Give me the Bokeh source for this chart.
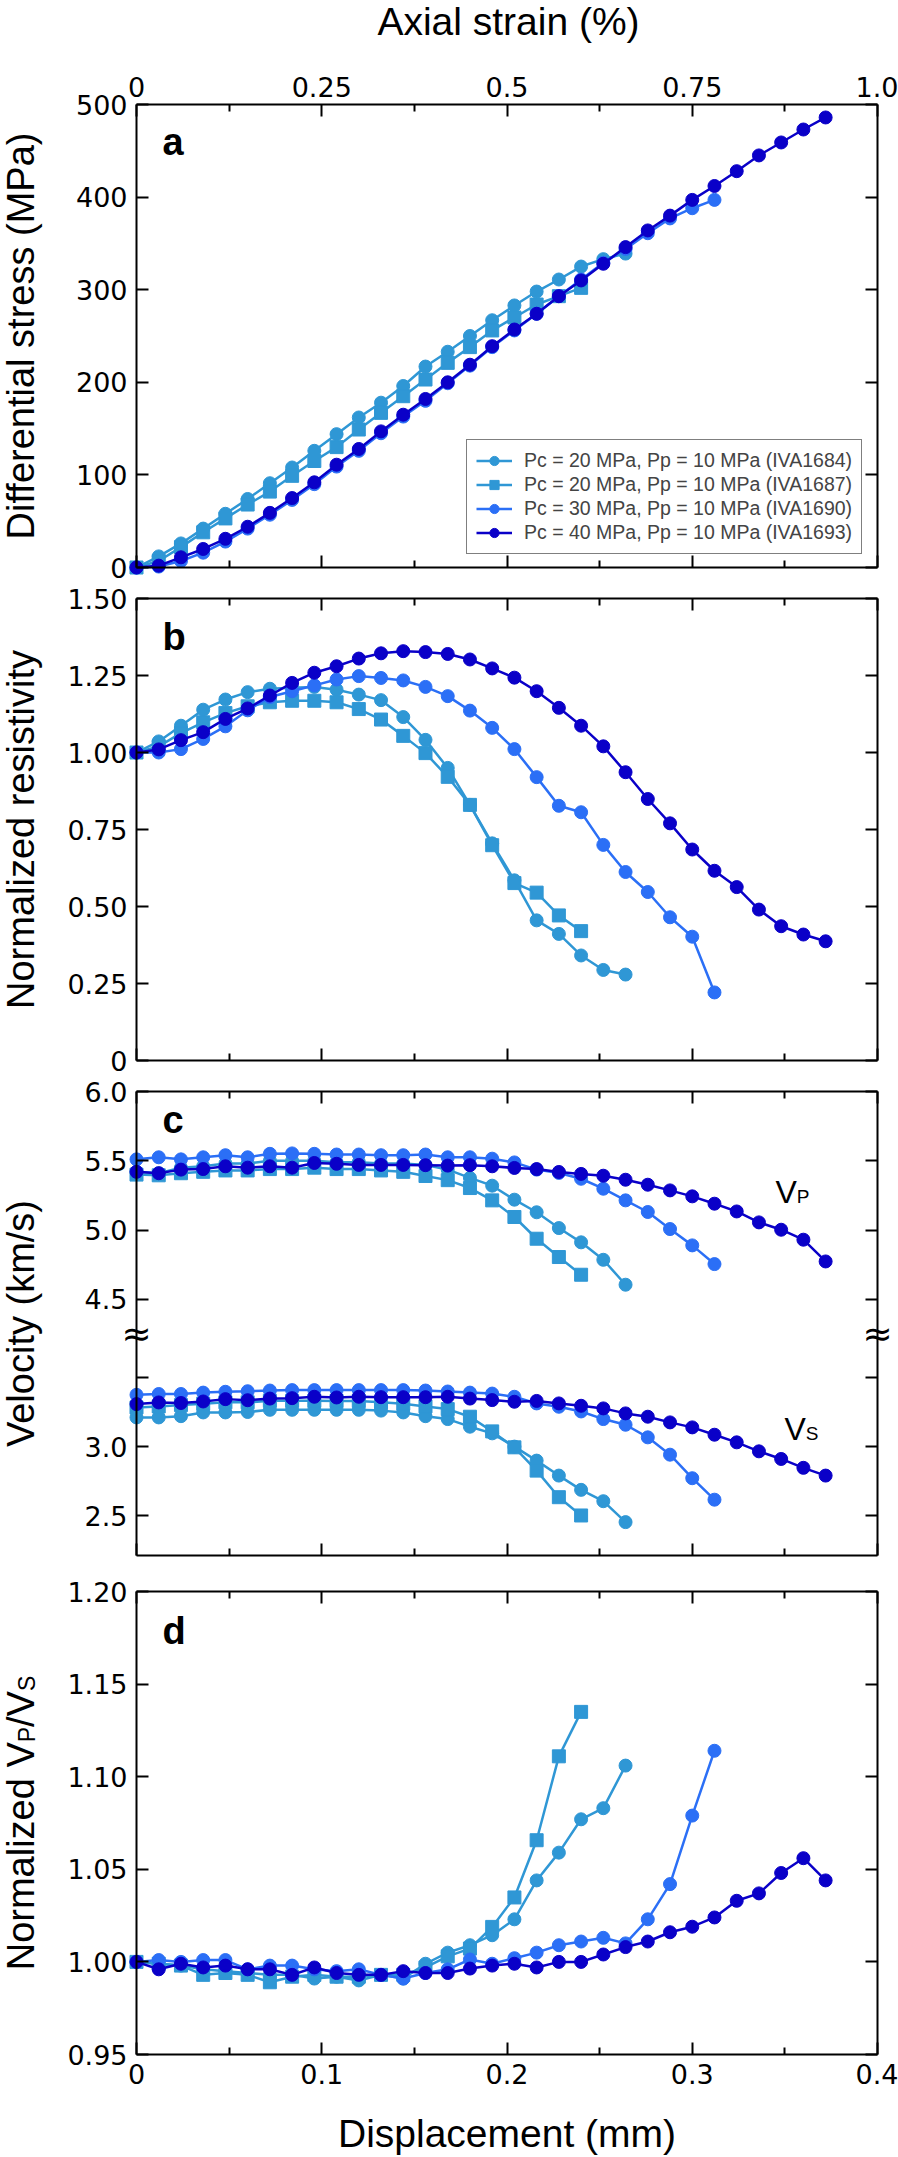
import math
import numpy as np
from bokeh.plotting import figure
from bokeh.models import (Range1d, LinearAxis, FixedTicker, CustomJSTickFormatter,
                          Label, Legend, LegendItem)
from bokeh.embed import file_html
from bokeh.resources import INLINE

# ---------------- data ----------------
DISP = [0.000, 0.012, 0.024, 0.036, 0.048, 0.060, 0.072, 0.084, 0.096, 0.108,
        0.120, 0.132, 0.144, 0.156, 0.168, 0.180, 0.192, 0.204, 0.216, 0.228,
        0.240, 0.252, 0.264, 0.276, 0.288, 0.300, 0.312, 0.324, 0.336, 0.348,
        0.360, 0.372]

NAMES = ["Pc = 20 MPa, Pp = 10 MPa (IVA1684)",
         "Pc = 20 MPa, Pp = 10 MPa (IVA1687)",
         "Pc = 30 MPa, Pp = 10 MPa (IVA1690)",
         "Pc = 40 MPa, Pp = 10 MPa (IVA1693)"]
MARKERS = ["circle", "square", "circle", "circle"]
COLORS = ["#2f97d5", "#2f97d5", "#2b6ff6", "#0a00c8"]

# (a) differential stress, MPa
STRESS_1684 = [0, 12, 26, 42, 58, 74, 91, 108, 126, 144, 162, 178, 196, 217, 233,
               250, 267, 283, 298, 311, 325, 333, 339]
STRESS_1687 = [0, 7, 22, 38, 53, 68, 82, 99, 115, 130, 149, 167, 185, 203, 221,
               238, 256, 270, 284, 293, 302]
STRESS_1690 = [0, 1, 7, 16, 28, 42, 57, 73, 90, 109, 126, 145, 163, 180, 199,
               218, 238, 256, 274, 293, 311, 329, 344, 361, 377, 388, 397]
STRESS_1693 = [0, 2, 11, 20, 31, 44, 59, 75, 92, 111, 128, 147, 165, 182, 200,
               219, 239, 257, 274, 293, 310, 328, 346, 364, 380, 397, 412, 428,
               445, 459, 473, 486]

# (b) normalized resistivity
RES_1684 = [1.00, 1.036, 1.087, 1.139, 1.172, 1.196, 1.207, 1.210, 1.213, 1.204,
            1.188, 1.170, 1.115, 1.041, 0.950, 0.830, 0.705, 0.585, 0.455, 0.411,
            0.341, 0.294, 0.279]
RES_1687 = [1.00, 1.020, 1.063, 1.098, 1.128, 1.150, 1.163, 1.168, 1.168, 1.163,
            1.141, 1.107, 1.054, 0.998, 0.921, 0.830, 0.699, 0.576, 0.545, 0.471,
            0.420]
RES_1690 = [1.00, 1.00, 1.011, 1.044, 1.085, 1.137, 1.180, 1.199, 1.218, 1.237,
            1.248, 1.242, 1.234, 1.213, 1.183, 1.136, 1.080, 1.011, 0.920, 0.827,
            0.806, 0.700, 0.612, 0.547, 0.465, 0.402, 0.221]
RES_1693 = [1.00, 1.010, 1.040, 1.066, 1.109, 1.143, 1.185, 1.226, 1.259, 1.280,
            1.305, 1.322, 1.329, 1.326, 1.320, 1.302, 1.273, 1.243, 1.199, 1.145,
            1.087, 1.020, 0.936, 0.849, 0.770, 0.685, 0.616, 0.563, 0.490, 0.436,
            0.409, 0.387]

# (c) P-wave velocity, km/s
VP_1684 = [5.42, 5.41, 5.45, 5.46, 5.48, 5.48, 5.50, 5.50, 5.50, 5.49, 5.49, 5.48,
           5.48, 5.47, 5.436, 5.376, 5.320, 5.219, 5.128, 5.014, 4.911, 4.785, 4.605]
VP_1687 = [5.40, 5.395, 5.41, 5.42, 5.43, 5.43, 5.44, 5.44, 5.45, 5.44, 5.44, 5.43,
           5.42, 5.39, 5.36, 5.303, 5.214, 5.094, 4.937, 4.805, 4.677]
VP_1690 = [5.51, 5.525, 5.51, 5.525, 5.54, 5.525, 5.55, 5.553, 5.55, 5.545, 5.545,
           5.54, 5.54, 5.545, 5.525, 5.525, 5.515, 5.488, 5.436, 5.412, 5.370,
           5.298, 5.214, 5.130, 5.007, 4.889, 4.754]
VP_1693 = [5.42, 5.41, 5.436, 5.44, 5.46, 5.45, 5.46, 5.45, 5.484, 5.478, 5.47,
           5.47, 5.47, 5.468, 5.465, 5.468, 5.46, 5.448, 5.44, 5.419, 5.405, 5.392,
           5.363, 5.327, 5.286, 5.243, 5.190, 5.134, 5.055, 5.002, 4.930, 4.773]

# (c) S-wave velocity, km/s
VS_1684 = [3.211, 3.211, 3.22, 3.247, 3.247, 3.25, 3.266, 3.266, 3.266, 3.266,
           3.266, 3.26, 3.247, 3.22, 3.199, 3.144, 3.096, 3.000, 2.899, 2.791,
           2.688, 2.606, 2.455]
VS_1687 = [3.283, 3.29, 3.30, 3.31, 3.32, 3.32, 3.331, 3.331, 3.331, 3.33, 3.33,
           3.32, 3.31, 3.29, 3.271, 3.216, 3.110, 2.995, 2.827, 2.635, 2.503]
VS_1690 = [3.374, 3.38, 3.38, 3.39, 3.396, 3.40, 3.405, 3.408, 3.408, 3.408, 3.408,
           3.408, 3.408, 3.405, 3.398, 3.39, 3.383, 3.36, 3.312, 3.288, 3.254,
           3.199, 3.158, 3.067, 2.942, 2.772, 2.617]
VS_1693 = [3.307, 3.319, 3.315, 3.326, 3.343, 3.335, 3.347, 3.35, 3.36, 3.355,
           3.36, 3.357, 3.357, 3.357, 3.36, 3.347, 3.336, 3.324, 3.33, 3.312,
           3.295, 3.276, 3.24, 3.216, 3.175, 3.139, 3.086, 3.031, 2.966, 2.911,
           2.847, 2.791]

# (d) normalized Vp/Vs
VPVS_1684 = [1.0, 0.999, 0.998, 0.996, 0.995, 0.994, 0.993, 0.993, 0.991, 0.992,
             0.990, 0.993, 0.991, 0.999, 1.005, 1.009, 1.0144, 1.023, 1.044, 1.059,
             1.077, 1.083, 1.106]
VPVS_1687 = [1.0, 0.999, 0.998, 0.993, 0.994, 0.993, 0.989, 0.992, 0.993, 0.992,
             0.992, 0.993, 0.993, 0.997, 1.003, 1.0072, 1.0189, 1.0348, 1.0657,
             1.111, 1.135]
VPVS_1690 = [1.0, 1.001, 1.0, 1.001, 1.001, 0.996, 0.998, 0.998, 0.996, 0.995,
             0.996, 0.993, 0.991, 0.994, 0.996, 1.0013, 0.999, 1.002, 1.005, 1.009,
             1.011, 1.013, 1.010, 1.023, 1.042, 1.079, 1.114]
VPVS_1693 = [1.0, 0.996, 0.999, 0.997, 0.998, 0.996, 0.996, 0.993, 0.997, 0.994,
             0.993, 0.993, 0.995, 0.994, 0.994, 0.9964, 0.998, 0.999, 0.997, 1.0,
             1.0, 1.004, 1.008, 1.011, 1.016, 1.019, 1.024, 1.033, 1.037, 1.048,
             1.056, 1.044]

# ticks
X_MAJOR = [0, 0.1, 0.2, 0.3, 0.4]
X_MINOR = [0.05, 0.15, 0.25, 0.35]
STRAIN_MAJOR = [0, 0.25, 0.5, 0.75, 1.0]
STRAIN_MINOR = [0.125, 0.375, 0.625, 0.875]
Y_TICKS_A = [0, 100, 200, 300, 400, 500]
Y_TICKS_B = [0, 0.25, 0.5, 0.75, 1.0, 1.25, 1.5]
VP_TICKS = [4.5, 5.0, 5.5, 6.0]
VS_TICKS = [2.5, 3.0, 3.5]
Y_TICKS_D = [0.95, 1.0, 1.05, 1.10, 1.15, 1.20]

# ---------------- layout constants (page pixels) ----------------
W, H = 898, 2157
VS_OFFSET = 0.436          # shift of the Vs block on the broken velocity axis
FRAME_LEFT, FRAME_W = 136, 741
XS = FRAME_W / 0.4         # px per mm
TITLE_FONT = "Liberation Sans"
TICK_FONT = "DejaVu Sans"
MID = 0.3465               # (ascent - descent) / 2, in em: baseline -> box middle


def px2x(px):
    return (px - FRAME_LEFT) / XS


def prange(top, h, y0, y1):
    s = (y1 - y0) / h
    return Range1d(start=y0 - (H - (top + h)) * s, end=y1 + top * s)


PANELS = {  # name: (page top, height, y0, y1)
    "a": (104, 463, 0, 500),
    "b": (598, 462, 0, 1.5),
    "c": (1091, 464, 2.65, 6.0),
    "d": (1591, 463, 0.95, 1.20),
}

p = figure(width=W, height=H, frame_width=W, frame_height=H,
           x_range=Range1d(px2x(0), px2x(W)), y_range=Range1d(H, 0),
           output_backend="svg", toolbar_location=None,
           x_axis_location=None, y_axis_location=None,
           min_border_left=0, min_border_right=0, min_border_top=0,
           min_border_bottom=0, background_fill_color="white",
           border_fill_color="white", outline_line_color=None)
p.grid.visible = False
p.extra_x_ranges = {"page": Range1d(0, W),
                    "strain": Range1d(px2x(0) * 2.5, px2x(W) * 2.5)}
p.extra_y_ranges = {k: prange(*v) for k, v in PANELS.items()}


def style_axis(ax, show_labels, standoff=8):
    ax.axis_line_width = 2
    ax.axis_line_color = "black"
    ax.major_tick_line_width = 2
    ax.minor_tick_line_width = 2
    ax.major_tick_line_color = "black"
    ax.minor_tick_line_color = "black"
    ax.major_tick_in = 12
    ax.major_tick_out = 0
    ax.minor_tick_in = 7
    ax.minor_tick_out = 0
    if show_labels:
        ax.major_label_text_font = TICK_FONT
        ax.major_label_text_font_size = "27px"
        ax.major_label_text_color = "black"
        ax.major_label_standoff = standoff
    else:
        ax.formatter = CustomJSTickFormatter(code="return '';")
        ax.major_label_text_font_size = "1px"
        ax.major_label_standoff = 0


def add_panel_axes(name, yticks, yformatter, top_strain=False, bottom_labels=False):
    _, _, y0, y1 = PANELS[name]
    ax = LinearAxis(y_range_name=name, fixed_location=0, bounds=(y0, y1),
                    ticker=FixedTicker(ticks=yticks, minor_ticks=[]),
                    formatter=yformatter)
    style_axis(ax, True, standoff=9)
    p.add_layout(ax, "left")
    ax = LinearAxis(y_range_name=name, fixed_location=0.4, bounds=(y0, y1),
                    ticker=FixedTicker(ticks=yticks, minor_ticks=[]))
    style_axis(ax, False)
    p.add_layout(ax, "right")
    if top_strain:
        ax = LinearAxis(x_range_name="strain", y_range_name=name, fixed_location=y1,
                        bounds=(0, 1.0),
                        ticker=FixedTicker(ticks=STRAIN_MAJOR, minor_ticks=STRAIN_MINOR),
                        formatter=CustomJSTickFormatter(
                            code="return tick == 0 ? '0' : (tick == 1 ? '1.0' : String(tick));"))
        style_axis(ax, True, standoff=8)
    else:
        ax = LinearAxis(y_range_name=name, fixed_location=y1, bounds=(0, 0.4),
                        ticker=FixedTicker(ticks=X_MAJOR, minor_ticks=X_MINOR))
        style_axis(ax, False)
    p.add_layout(ax, "above")
    if bottom_labels:
        ax = LinearAxis(y_range_name=name, fixed_location=y0, bounds=(0, 0.4),
                        ticker=FixedTicker(ticks=X_MAJOR, minor_ticks=X_MINOR),
                        formatter=CustomJSTickFormatter(
                            code="return tick == 0 ? '0' : tick.toFixed(1);"))
        style_axis(ax, True, standoff=9)
    else:
        ax = LinearAxis(y_range_name=name, fixed_location=y0, bounds=(0, 0.4),
                        ticker=FixedTicker(ticks=X_MAJOR, minor_ticks=X_MINOR))
        style_axis(ax, False)
    p.add_layout(ax, "below")


def text(x, y, s, size, bold=False, align="left", font=TITLE_FONT):
    """Horizontal text; x, y = page pixels of the left/center start and the baseline."""
    p.add_layout(Label(x=x, y=y - MID * size, x_range_name="page", text=s,
                       text_font=font, text_font_size=f"{size}px",
                       text_font_style="bold" if bold else "normal",
                       text_align=align, text_baseline="middle",
                       text_color="black"))


def vtext(x, y, s, size, align="center", font=TITLE_FONT):
    """Text rotated 90 deg (reads upward); x = page px of the baseline."""
    p.add_layout(Label(x=x - MID * size, y=y, x_range_name="page", text=s,
                       text_font=font, text_font_size=f"{size}px",
                       angle=math.pi / 2, text_align=align, text_baseline="middle",
                       text_color="black"))


def plot_series(name, ys, offset=0.0):
    items = []
    for label, marker, color, y in zip(NAMES, MARKERS, COLORS, ys):
        x = DISP[:len(y)]
        yy = list(np.array(y, dtype=float) + offset)
        r1 = p.line(x, yy, line_color=color, line_width=2.5, y_range_name=name)
        r2 = p.scatter(x, yy, marker=marker, size=13, fill_color=color,
                       line_color=color, y_range_name=name)
        items.append(LegendItem(label=label, renderers=[r1, r2]))
    return items


def center_y(name):
    top, h, _, _ = PANELS[name]
    return top + h / 2


YLABEL_X = 34

# ---------------- panel a ----------------
add_panel_axes("a", Y_TICKS_A, CustomJSTickFormatter(code="return tick.toFixed(0);"),
               top_strain=True)
items = plot_series("a", [STRESS_1684, STRESS_1687, STRESS_1690, STRESS_1693])
legend = Legend(items=items, location=(466, H - 554),
                border_line_color="black", border_line_width=1.5,
                background_fill_color="white", background_fill_alpha=1.0,
                label_text_font=TITLE_FONT, label_text_font_size="19.5px",
                glyph_width=36, glyph_height=23, label_height=23,
                spacing=1, padding=9, margin=0, label_standoff=12)
p.add_layout(legend)
text(162, 155, "a", 38, bold=True)
vtext(YLABEL_X, center_y("a"), "Differential stress (MPa)", 38)
text(508, 35, "Axial strain (%)", 39, align="center")

# ---------------- panel b ----------------
add_panel_axes("b", Y_TICKS_B, CustomJSTickFormatter(
    code="return tick == 0 ? '0' : tick.toFixed(2);"))
plot_series("b", [RES_1684, RES_1687, RES_1690, RES_1693])
text(162, 650, "b", 38, bold=True)
vtext(YLABEL_X, center_y("b"), "Normalized resistivity", 38)

# ---------------- panel c ----------------
c_ticks = [v + VS_OFFSET for v in VS_TICKS] + VP_TICKS
add_panel_axes("c", c_ticks, CustomJSTickFormatter(args=dict(off=VS_OFFSET), code="""
    if (tick > 4.2) { return tick.toFixed(1); }
    const v = tick - off;
    if (Math.abs(v - 3.5) < 0.01) { return ''; }
    return v.toFixed(1);
"""))
plot_series("c", [VP_1684, VP_1687, VP_1690, VP_1693])
plot_series("c", [VS_1684, VS_1687, VS_1690, VS_1693], offset=VS_OFFSET)
text(162, 1133, "c", 38, bold=True)
vtext(YLABEL_X, center_y("c"), "Velocity (km/s)", 38)
text(775, 1203, "V", 32)
text(775 + 0.667 * 32, 1203, "P", 19)
text(784, 1440, "V", 32)
text(784 + 0.667 * 32, 1440, "S", 19)
for bx in (FRAME_LEFT, FRAME_LEFT + FRAME_W):
    p.add_layout(Label(x=bx, y=1333, x_range_name="page", text="\u2248",
                       text_font="DejaVu Sans", text_font_size="36px",
                       text_align="center", text_baseline="middle",
                       text_color="black"))

# ---------------- panel d ----------------
add_panel_axes("d", Y_TICKS_D, CustomJSTickFormatter(code="return tick.toFixed(2);"),
               bottom_labels=True)
plot_series("d", [VPVS_1684, VPVS_1687, VPVS_1690, VPVS_1693])
text(162, 1644, "d", 38, bold=True)
text(506.5, 2147, "Displacement (mm)", 39, align="center")

# y label "Normalized VP/VS" with small-cap subscripts, built from pieces
ARIAL_W = {'N': .722, 'o': .556, 'r': .333, 'm': .833, 'a': .556, 'l': .222,
           'i': .222, 'z': .5, 'e': .556, 'd': .556, ' ': .278, 'V': .667,
           'P': .667, '/': .278, 'S': .667}
pieces = [("Normalized V", 38), ("P", 23), ("/V", 38), ("S", 23)]
widths = [sum(ARIAL_W[ch] for ch in s) * fs for s, fs in pieces]
start = center_y("d") + sum(widths) / 2
for (s, fs), w in zip(pieces, widths):
    vtext(YLABEL_X, start, s, fs, align="left")
    start -= w

open("out.html", "w").write(file_html(p, INLINE))
